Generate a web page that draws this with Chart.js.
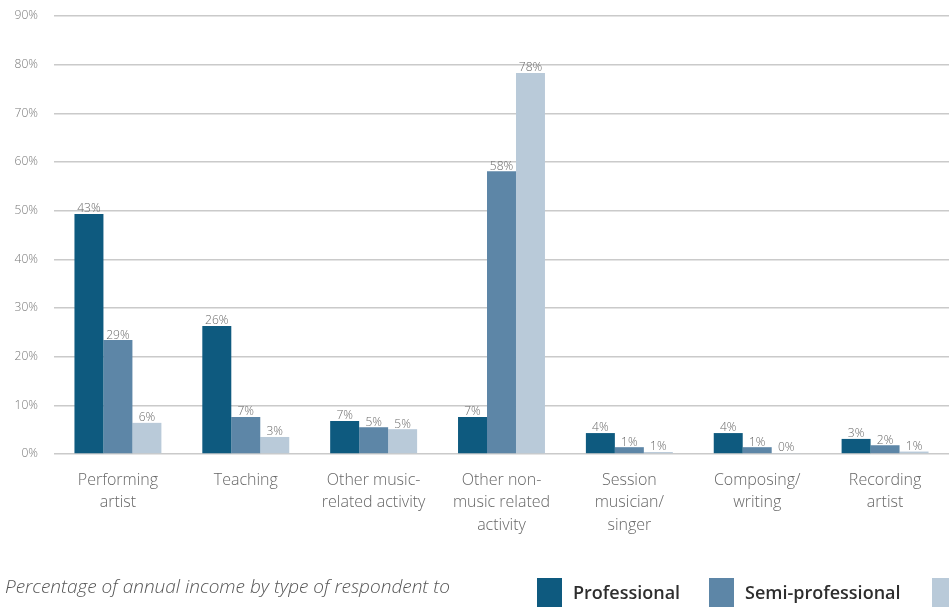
<!DOCTYPE html>
<html>
<head>
<meta charset="utf-8">
<script src="https://cdn.jsdelivr.net/npm/chart.js@4.4.1/dist/chart.umd.min.js"></script>
<style>
  html, body { margin: 0; padding: 0; background: #ffffff; overflow: hidden; }
  #wrap { position: relative; width: 949px; height: 607px; }
</style>
</head>
<body>
<div id="wrap"><canvas id="chart" width="949" height="607"></canvas></div>
<script>
const categories = [
  ["Performing", "artist"],
  ["Teaching"],
  ["Other music-", "related activity"],
  ["Other non-", "music related", "activity"],
  ["Session", "musician/", "singer"],
  ["Composing/", "writing"],
  ["Recording", "artist"]
];
const seriesNames = ["Professional", "Semi-professional", "Amateur"];
const professional = [49.3, 26.3, 6.8, 7.6, 4.3, 4.3, 3.1];
const semiProfessional = [23.4, 7.6, 5.5, 58.1, 1.4, 1.4, 1.8];
const amateur = [6.4, 3.5, 5.1, 78.3, 0.4, 0.2, 0.5];
const professionalLabels = ["43%", "26%", "7%", "7%", "4%", "4%", "3%"];
const semiProfessionalLabels = ["29%", "7%", "5%", "58%", "1%", "1%", "2%"];
const amateurLabels = ["6%", "3%", "5%", "78%", "1%", "0%", "1%"];
const yTickValues = [0, 10, 20, 30, 40, 50, 60, 70, 80, 90];
const caption = "Percentage of annual income by type of respondent to";

const colors = ["#0e5a7f", "#5d86a7", "#b9cad9"];
const labelSets = [professionalLabels, semiProfessionalLabels, amateurLabels];

const barLabelPlugin = {
  id: "barLabels",
  afterDatasetsDraw(chart) {
    const ctx = chart.ctx;
    ctx.save();
    ctx.font = "300 12px 'Open Sans'";
    ctx.fillStyle = "#6a6a6a";
    ctx.textAlign = "center";
    ctx.textBaseline = "bottom";
    chart.data.datasets.forEach((ds, di) => {
      const meta = chart.getDatasetMeta(di);
      meta.data.forEach((bar, i) => {
        ctx.fillText(labelSets[di][i], bar.x, bar.y + 1);
      });
    });
    ctx.restore();
  }
};

const footerPlugin = {
  id: "footer",
  afterDraw(chart) {
    const ctx = chart.ctx;
    ctx.save();
    ctx.font = "italic 300 19px 'Open Sans'";
    ctx.fillStyle = "#555555";
    ctx.textAlign = "left";
    ctx.textBaseline = "middle";
    ctx.fillText(caption, 5, 588);
    const boxX = [537, 709, 932];
    ctx.font = "600 18px 'Open Sans'";
    chart.data.datasets.forEach((ds, di) => {
      ctx.fillStyle = ds.backgroundColor;
      ctx.fillRect(boxX[di], 578, 25, 30);
      ctx.fillStyle = "#2e2e2e";
      ctx.fillText(ds.label, boxX[di] + 36, 594);
    });
    ctx.restore();
  }
};

new Chart(document.getElementById("chart"), {
  type: "bar",
  data: {
    labels: categories,
    datasets: [
      { label: seriesNames[0], data: professional, backgroundColor: colors[0] },
      { label: seriesNames[1], data: semiProfessional, backgroundColor: colors[1] },
      { label: seriesNames[2], data: amateur, backgroundColor: colors[2] }
    ]
  },
  options: {
    responsive: false,
    animation: false,
    layout: { padding: { top: 16, right: 0, bottom: 0, left: 0 } },
    datasets: { bar: { barPercentage: 1.0, categoryPercentage: 0.68 } },
    plugins: {
      legend: { display: false },
      tooltip: { enabled: false }
    },
    scales: {
      x: {
        grid: { display: false, drawTicks: false },
        border: { display: false },
        ticks: {
          color: "#666666",
          font: { family: "'Open Sans'", size: 16, weight: 300, lineHeight: 1.4 },
          padding: 15,
          maxRotation: 0,
          autoSkip: false
        },
        afterFit(scale) { scale.height = 153; scale.paddingLeft = 0; scale.paddingRight = 0; }
      },
      y: {
        min: 0,
        max: 90,
        afterBuildTicks(scale) { scale.ticks = yTickValues.map(v => ({ value: v })); },
        grid: { color: "#cacaca", lineWidth: 1.6, drawTicks: false },
        border: { display: false },
        ticks: {
          color: "#777777",
          font: { family: "'Open Sans'", size: 12, weight: 300 },
          padding: 16,
          callback: v => v + "%"
        },
        afterFit(scale) { scale.width = 54; scale.paddingTop = 0; scale.paddingBottom = 0; }
      }
    }
  },
  plugins: [barLabelPlugin, footerPlugin]
});
</script>
</body>
</html>
